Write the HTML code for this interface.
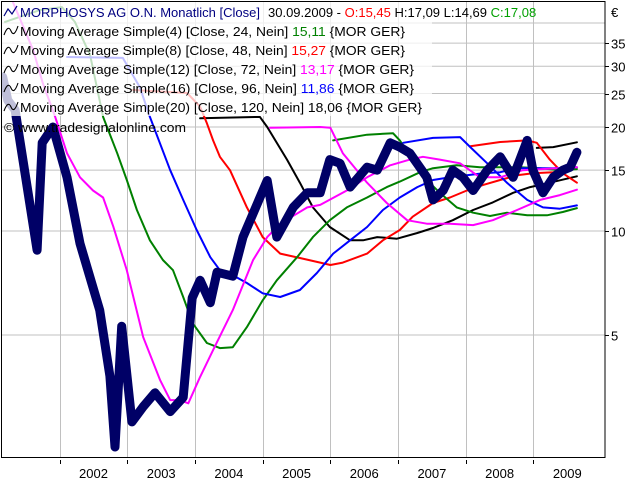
<!DOCTYPE html>
<html><head><meta charset="utf-8"><style>
html,body{margin:0;padding:0;background:#fff;}
svg{display:block;font-family:"Liberation Sans","DejaVu Sans",sans-serif;}
</style></head><body>
<svg id="chart" width="640" height="480" viewBox="0 0 640 480" xmlns="http://www.w3.org/2000/svg">
<defs><clipPath id="plotclip"><rect x="2" y="2" width="603" height="455"/></clipPath></defs>
<rect x="0" y="0" width="640" height="480" fill="#fff"/>
<g id="grid"></g>
<g id="series" clip-path="url(#plotclip)"></g>
<rect x="2" y="2" width="430" height="114" fill="#fff" fill-opacity="0.75"/>
<rect x="1.5" y="1.5" width="603.5" height="456" fill="none" stroke="#000" stroke-width="1"/>
<g id="axes"></g>
<g id="legend" font-size="13">
  <polyline points="4,16 8,9 12,14 17,6" fill="none" stroke="#000080" stroke-width="1.2"/>
  <text x="20" y="17"><tspan fill="#000080" textLength="240" lengthAdjust="spacingAndGlyphs">MORPHOSYS AG O.N. Monatlich [Close]</tspan><tspan x="268" fill="#000">30.09.2009 - </tspan><tspan fill="#ff0000">O:15,45 </tspan><tspan fill="#000">H:17,09 L:14,69 </tspan><tspan fill="#00a000">C:17,08</tspan></text>
  <g id="malegend"></g>
  <text x="4" y="132" fill="#000" textLength="182" lengthAdjust="spacingAndGlyphs">© www.tradesignalonline.com</text>
</g>
</svg>
<script>
// ---- data (month index from Jan 2001, value in EUR) ----
const closeMonths=[1.9,2.8,4.1,8.0,8.9,10.8,13.3,15.6,19.1,20.9,21.8,23.0,24.8,26.8,28.9,31.6,33.9,35.5,36.9,38.7,39.9,42.7,44.5,48.8,50.5,53.4,55.9,58.2,59.9,61.7,63.5,66.5,68.3,70.6,72.3,74.1,77.1,78.2,80.0,81.7,83.5,85.3,87.8,90.1,92.4,94.9,95.9,97.7,99.5,101.2,102.5,103.7];
const closeValues=[27.9,23.9,22.4,8.8,18.0,20.0,14.3,9.2,5.9,3.8,2.37,5.3,2.8,3.1,3.4,3.0,3.3,6.4,7.2,6.2,7.6,7.4,9.6,14.0,9.6,11.7,12.9,12.9,16.1,15.7,13.4,15.3,15.0,18.0,17.5,16.8,14.3,12.3,13.1,15.0,14.3,13.1,15.0,16.4,14.3,18.3,15.0,12.9,14.3,15.0,15.3,16.9];

const pinkAMonths=[3.7,7.3,9.0,11.2,13.3,15.6,17.9,19.7,21.5,23.9,26.8,29.8,31.6,33.3,34.8,36.9,39.2,42.7,46.3,48.8,51.1,55.9,58.2,62.9,66.5,70.6,74.1,76.4,79.4,83.0,86.5,90.1,94.1,100.2,103.7];
const pinkAValues=[46,33.4,26.8,21.4,16.8,14.3,13.1,12.5,10.3,7.7,4.93,3.7,3.24,3.24,3.17,3.78,4.52,5.9,8.24,9.6,10.5,11.7,11.9,13.1,14.3,15.5,16.1,16.4,16.1,15.7,14.3,14.3,15.0,15.2,15.3];
const pinkBMonths=[49.3,58.2,60.0,62.2,66.5,70.0,73.6,77.1,81.2,85.3,88.8,93.1,97.2,100.7,103.7];
const pinkBValues=[19.9,20.0,19.9,16.8,13.8,12.05,10.75,10.5,10.5,10.4,10.75,11.5,12.3,12.7,13.17];

const greenAMonths=[2.3,8.5,12.4,14.7,17.4,19.7,22.2,23.9,25.7,28.0,30.3,32.1,33.9,35.6,38.1,40.4,42.7,45.2,48.0,50.5,54.1,56.9,59.9,62.9,66.5,70.0,72.3,75.9,78.2,82.4,86.5,90.1,93.6,97.2,100.7,103.7];
const greenAValues=[40.3,43.6,44.5,40.3,32.3,21.4,16.8,14.05,11.5,9.4,8.24,7.7,6.44,5.4,4.74,4.58,4.61,5.27,6.3,7.2,8.4,9.6,10.75,11.7,12.5,13.4,13.9,14.8,15.2,15.5,15.3,15.3,15.3,15.2,15.0,15.11];
const greenBMonths=[60.5,66.5,71.1,72.3,74.6,77.1,79.4,82.4,85.3,88.3,91.3,94.9,98.4,101.2,103.7];
const greenBValues=[18.3,19.0,19.2,18.3,16.1,14.05,12.9,11.7,11.3,11.05,11.3,11.1,11.1,11.35,11.65];

const blueAMonths=[13.3,23.2,26.2,28.0,31.6,33.9,36.3,38.7,40.4,42.7,45.2,48.0,51.1,54.6,57.6,60.5,63.5,66.5,69.3,72.3,75.4,78.2,81.2,84.2,87.1,90.1,93.1,95.9,99.5,103.7];
const blueAValues=[31.9,31.7,26.1,21.4,15.0,12.3,10.07,8.4,7.7,7.45,7.07,6.6,6.44,6.75,7.56,8.6,9.4,10.27,11.5,12.5,13.4,14.05,14.3,14.5,14.7,14.8,15.2,15.2,15.2,15.3];
const blueBMonths=[72.9,78.2,83.0,84.8,87.8,91.3,94.9,97.7,100.7,103.7];
const blueBValues=[18.0,18.6,18.7,17.5,15.7,13.8,12.3,11.7,11.6,11.86];

const redAMonths=[25.0,34.6,36.9,38.1,39.2,40.4,42.2,45.2,48.0,51.1,54.6,58.2,60.0,62.2,66.5,69.3,72.3,74.6,78.2,81.2,84.2,87.1,90.1,93.1,95.9,99.5,103.7];
const redAValues=[25.6,25.1,22.9,20.5,18.3,16.4,15.0,11.7,9.6,8.6,8.35,8.1,7.97,8.1,8.6,9.4,10.07,11.0,12.05,12.5,13.1,13.6,14.05,14.5,14.7,14.8,15.27];
const redBMonths=[84.8,90.1,94.9,96.6,98.9,101.2,103.7];
const redBValues=[17.6,18.1,18.3,18.0,16.1,14.7,13.8];

const blackAMonths=[36.9,47.5,48.8,52.3,54.6,56.9,59.9,63.5,65.8,68.3,71.8,75.4,78.2,81.7,85.3,88.8,92.4,95.4,98.9,103.7];
const blackAValues=[21.2,21.4,20.0,16.1,13.8,11.7,10.27,9.4,9.4,9.6,9.5,9.87,10.2,10.75,11.5,12.1,12.9,13.4,13.8,14.4];
const blackBMonths=[96.6,99.5,103.7];
const blackBValues=[17.4,17.5,18.06];

const yearLabels=["2002","2003","2004","2005","2006","2007","2008","2009"];
const yTickValues=[5,10,15,20,25,30,35];
const yGridValues=[5,10,15,20,25,30,35,40];
const maLabels=["Moving Average Simple(4) [Close, 24, Nein] ","Moving Average Simple(8) [Close, 48, Nein] ","Moving Average Simple(12) [Close, 72, Nein] ","Moving Average Simple(16) [Close, 96, Nein] ","Moving Average Simple(20) [Close, 120, Nein] "];
const maValues=["15,11","15,27","13,17","11,86","18,06"];

// ---- scales ----
const NS="http://www.w3.org/2000/svg";
function xs(m){return -8+5.64*m;}
function ys(v){return 231-150*Math.log(v/10);}
function mk(tag,attrs,parent){const e=document.createElementNS(NS,tag);for(const k in attrs)e.setAttribute(k,attrs[k]);parent.appendChild(e);return e;}

const grid=document.getElementById('grid'),axes=document.getElementById('axes'),series=document.getElementById('series');
yGridValues.forEach(v=>{
  const l=mk('line',{x1:2,x2:605,y1:ys(v),y2:ys(v),stroke:'#c0c0c0','stroke-width':1},grid);
  
  
});
yearLabels.forEach((lab,k)=>{
  const m=12+12*k,x=Math.round(xs(m))+0.5;
  const g=mk('line',{x1:x,x2:x,y1:2,y2:457,stroke:'#c0c0c0','stroke-width':1},grid);
  
  
  const t=mk('line',{x1:x,x2:x,y1:460,y2:464,stroke:'#000','stroke-width':1},axes);
  
  
  const tx=mk('text',{x:xs(m+6),y:478,'text-anchor':'middle','font-size':13,fill:'#000'},axes);
  tx.textContent=lab;
  
  
});
yTickValues.forEach(v=>{
  const y=Math.round(ys(v))+0.5;
  const t=mk('line',{x1:605,x2:609,y1:y,y2:y,stroke:'#000','stroke-width':1},axes);
  
  
  const tx=mk('text',{x:611,y:y+5,'font-size':13,fill:'#000'},axes);
  tx.textContent=String(v);
  
  
});
const eu=mk('text',{x:611,y:17,'font-size':13,fill:'#000'},axes);
eu.textContent='€';



function line(ms,vs,color,w,name){
  const pts=ms.map((m,i)=>xs(m).toFixed(1)+','+ys(vs[i]).toFixed(1)).join(' ');
  const p=mk('polyline',{points:pts,fill:'none',stroke:color,'stroke-width':w,'stroke-linejoin':'round','stroke-linecap':'round'},series);
  
  
}
line(blackAMonths,blackAValues,'#000',2,'ma20-line-a');
line(blackBMonths,blackBValues,'#000',2,'ma20-line-b');
line(redAMonths,redAValues,'#ff0000',2,'ma8-line-a');
line(redBMonths,redBValues,'#ff0000',2,'ma8-line-b');
line(greenAMonths,greenAValues,'#008000',2,'ma4-line-a');
line(greenBMonths,greenBValues,'#008000',2,'ma4-line-b');
line(blueAMonths,blueAValues,'#0000ff',2,'ma16-line-a');
line(blueBMonths,blueBValues,'#0000ff',2,'ma16-line-b');
line(pinkAMonths,pinkAValues,'#ff00ff',2,'ma12-line-a');
line(pinkBMonths,pinkBValues,'#ff00ff',2,'ma12-line-b');
line(closeMonths,closeValues,'#000066',9,'close-price-line');

const mcolors=['#008000','#ff0000','#ff00ff','#0000ff','#000'];
const mwidths=[385,385,394,394,402];
const mg=document.getElementById('malegend');
maLabels.forEach((lab,k)=>{
  const y=36+19*k;
  const ic=mk('path',{d:`M4,${y-1} Q8,${y-12} 11,${y-5} T18,${y-10}`,fill:'none',stroke:'#000','stroke-width':1.1},mg);
  
  
  const t=mk('text',{x:20,y:y,fill:'#000',textLength:mwidths[k],lengthAdjust:'spacingAndGlyphs'},mg);
  
  
  const a=mk('tspan',{},t);a.textContent=lab;
  const b=mk('tspan',{fill:mcolors[k]},t);b.textContent=maValues[k];
  const c=mk('tspan',{fill:'#000'},t);c.textContent=' {MOR GER}';
});
</script>
</body></html>
